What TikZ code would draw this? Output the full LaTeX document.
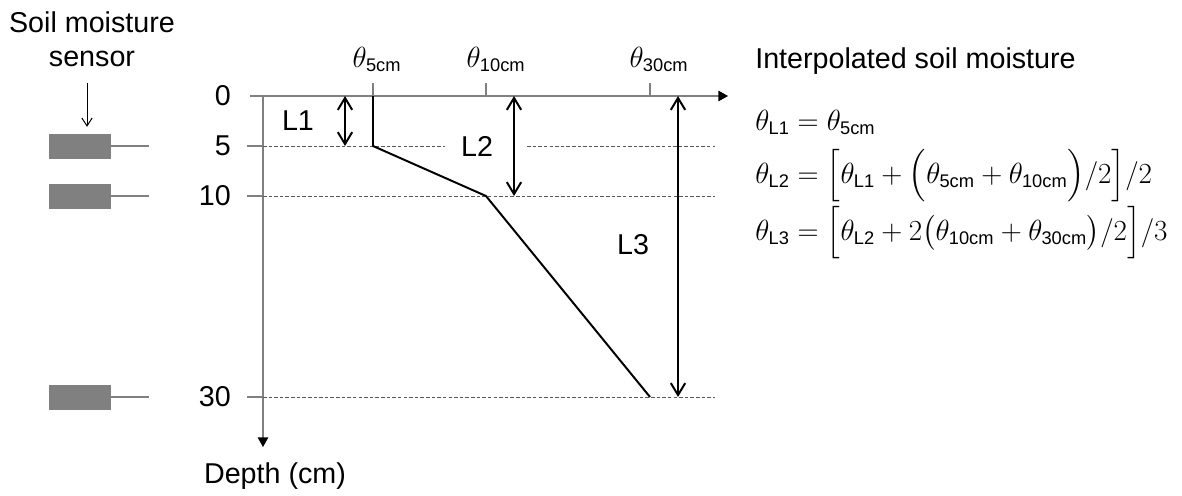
\documentclass[tikz,border=0pt]{standalone}
\usepackage{amsmath}
\usepackage{fontspec}
\setmainfont{Liberation Sans}
\usetikzlibrary{arrows.meta, positioning, calc}

\newcommand{\thsub}[1]{\theta_{\mbox{\fontsize{13}{14}\selectfont #1}}}

\begin{document}
\begin{tikzpicture}[x=0.25mm, y=-0.25mm, font=\fontsize{20.4}{24}\selectfont,
    axis/.style={draw=gray, line width=1pt},
    level/.style={draw=gray!70!black, line width=0.5pt, dash pattern=on 2.5pt off 1.5pt},
    sensorbox/.style={draw=none, fill=gray, minimum width=15.5mm, minimum height=6.25mm, inner sep=0pt},
    rod/.style={draw=gray, line width=1pt},
    pointer/.style={line width=0.7pt, -{Straight Barb[length=2mm, width=2.6mm]}, shorten >=1.6mm},
    layer/.style={line width=1.4pt, {Straight Barb[length=3mm, width=3.6mm]}-{Straight Barb[length=3mm, width=3.6mm]}},
    profile/.style={line width=1.4pt, line join=round},
    axistip/.style={-{Triangle[length=2.4mm, width=2.6mm, color=black]}},
    ticklabel/.style={anchor=east, inner sep=0pt},
    eqfont/.style={font=\fontsize{21.5}{25}\selectfont}]

\useasboundingbox (0,0) rectangle (1182,495);

% points on the axes
\coordinate (y0) at (263,96);
\coordinate (y5) at (263,146);
\coordinate (y10) at (263,196);
\coordinate (y30) at (263,397);
\coordinate (xtip) at (728,96);
\coordinate (ytip) at (263,447);
\coordinate (xend) at (715,96);
\coordinate (g1) at (445,146);
\coordinate (g2) at (527,146);

% sensors
\node[anchor=base] (sensA) at (92,32) {Soil moisture};
\node[anchor=base] (sensB) at (92,66) {sensor};
\node[sensorbox] (s5) at (80,146) {};
\node[sensorbox] (s10) at (80,196) {};
\node[sensorbox] (s30) at (80,397) {};
\foreach \s in {s5,s10,s30}
    \draw[rod] (\s.east) -- ++(38,0);
\coordinate (arrtop) at (87,83);
\draw[pointer] (arrtop) -- (arrtop |- s5.north);

% axes
\draw[axis, axistip] (y0) ++(-13,0) -- (xtip);
\draw[axis, axistip] (y0) -- (ytip);
\node[anchor=base] (dlab) at (275,483) {Depth (cm)};

% depth levels
\foreach \d/\n in {0/y0,5/y5,10/y10,30/y30}
    \node[ticklabel] (lab\d) at ([xshift=-8mm]\n) {\d};
\foreach \n in {y5,y10,y30}
    \draw[axis] (\n) -- ++(-16,0);
\draw[level] (y5) -- (g1);
\draw[level] (g2) -- (y5 -| xend);
\draw[level] (y10) -- (y10 -| xend);
\draw[level] (y30) -- (y30 -| xend);

% moisture ticks
\coordinate (t5) at (373,96);
\coordinate (t10) at (486,96);
\coordinate (t30) at (650,96);
\foreach \t in {t5,t10,t30}
    \draw[axis] (\t) -- ++(0,-13);
\node[eqfont, anchor=base] (th5) at (377,67) {$\thsub{5cm}$};
\node[eqfont, anchor=base] (th10) at (496,67) {$\thsub{10cm}$};
\node[eqfont, anchor=base] (th30) at (659,67) {$\thsub{30cm}$};

% profile
\draw[profile] (t5) -- (t5 |- y5) -- (t10 |- y10) -- (t30 |- y30);

% layers
\coordinate (a1) at (345,96);
\coordinate (a2) at (514,96);
\coordinate (a3) at (678,96);
\draw[layer] (a1) -- (a1 |- y5);
\draw[layer] (a2) -- (a2 |- y10);
\draw[layer] (a3) -- (a3 |- y30);
\node (L1) at (298,121) {L1};
\node (L2) at (477,146) {L2};
\node (L3) at (633,245) {L3};

% interpolation
\node[anchor=base west, inner sep=0pt] (head) at (755,68) {Interpolated soil moisture};
\node[eqfont, anchor=base west, inner sep=0pt] (eq1) at (755,130)
    {$\thsub{L1} = \thsub{5cm}$};
\node[eqfont, anchor=base west, inner sep=0pt] (eq2) at (755,183)
    {$\thsub{L2} = \Bigl[\thsub{L1} + \Bigl(\thsub{5cm} + \thsub{10cm}\Bigr)/2\Bigr]/2$};
\node[eqfont, anchor=base west, inner sep=0pt] (eq3) at (755,240)
    {$\thsub{L3} = \Bigl[\thsub{L2} + 2\bigl(\thsub{10cm} + \thsub{30cm}\bigr)/2\Bigr]/3$};
\end{tikzpicture}
\end{document}
